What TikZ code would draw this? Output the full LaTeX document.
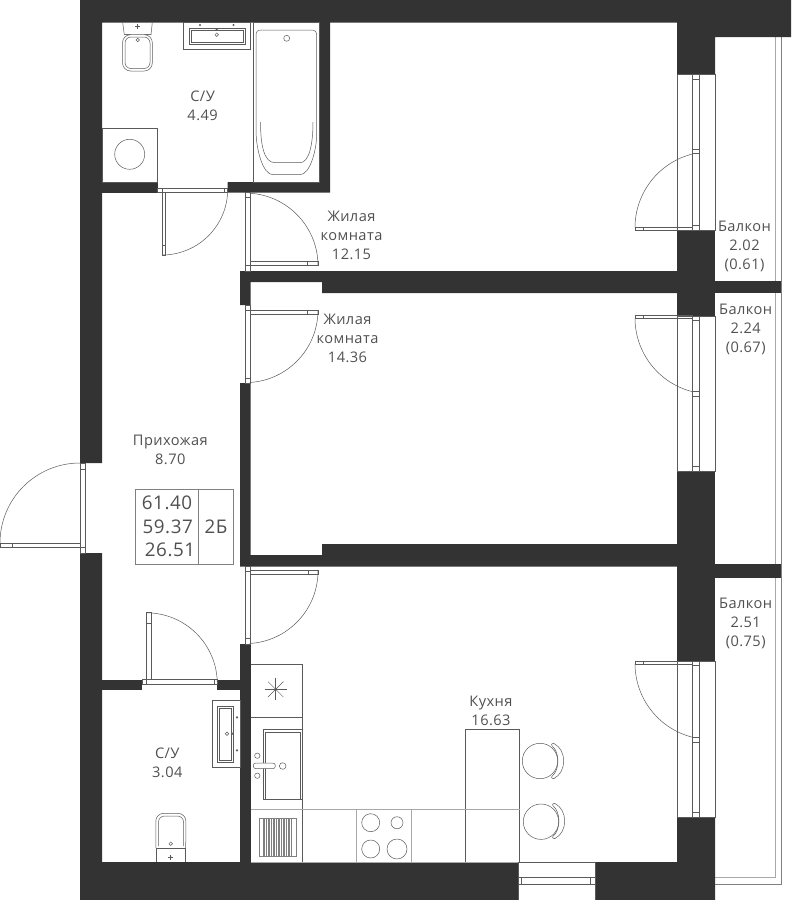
\documentclass[tikz,border=0pt]{standalone}
\usepackage{fontspec}
\setmainfont[LetterSpace=3]{Open Sans}
\definecolor{wallgray}{HTML}{333333}
\definecolor{linegray}{HTML}{5A5A5A}
\definecolor{palegray}{HTML}{A8A8A8}
\definecolor{textgray}{HTML}{505050}
\tikzset{
  wall/.style={fill=wallgray, draw=none},
  thin line/.style={draw=linegray, line width=0.5pt},
  pale line/.style={draw=palegray, line width=1pt},
  room label/.style={text=textgray, align=center, inner sep=0pt, font=\fontsize{14.6}{19}\selectfont},
  area label/.style={text=textgray, inner sep=0pt, font=\fontsize{18.8}{20}\selectfont}
}
\begin{document}
\begin{tikzpicture}[x=1pt, y=-1pt]
\useasboundingbox (0,0) rectangle (810,900);

%balcony railing
\draw[pale line] (775,37) -- (775,877) -- (715,877);
\draw[thin line, draw=gray] (781,37) -- (781,884) -- (715,884);

%outer walls
\fill[wall] (80,0) -- (791,0) -- (791,37) -- (715,37) -- (715,74) -- (677,74) -- (677,22.5) -- (102,22.5) -- (102,463) -- (80,463) -- cycle;
\fill[wall] (80,553) -- (102,553) -- (102,862) -- (518,862) -- (518,900) -- (80,900) -- cycle;
\fill[wall] (595,862) -- (677,862) -- (677,817) -- (715,817) -- (715,900) -- (595,900) -- cycle;

%piers on the balcony side
\fill[wall] (677,230) rectangle (715,316);
\fill[wall] (677,471) rectangle (715,661);
\fill[wall] (715,281) rectangle (781,293);
\fill[wall] (715,564) rectangle (781,578);

%inner walls
\fill[wall] (240,271) -- (677,271) -- (677,293) -- (322,293) -- (322,282) -- (250.7,282) -- (250.7,305) -- (240,305) -- cycle;
\fill[wall] (240,383) -- (250.7,383) -- (250.7,555) -- (322,555) -- (322,544) -- (677,544) -- (677,566.7) -- (240,566.7) -- cycle;
\fill[wall] (240,644) rectangle (250.7,862);
\fill[wall] (102,679.5) rectangle (142,690);
\fill[wall] (217,679.5) rectangle (240,690);
\fill[wall] (102,182) rectangle (157.7,192.7);
\fill[wall] (227.7,182) -- (319,182) -- (319,22) -- (330,22) -- (330,192.7) -- (227.7,192.7) -- cycle;

%balcony windows
\foreach \wtop/\wbot/\ta/\tb/\tc/\td in {74/230/79/149.7/153/225.7, 316/471/320/391/396/466.7, 661/817/665.7/737/742/812}{
  \draw[thin line] (677,\wtop) rectangle (715,\wbot);
  \draw[thin line] (692.3,\wtop) rectangle (699.7,\wbot);
  \foreach \t in {\ta,\tb,\tc,\td}
    \draw[thin line] (692.3,\t) -- (699.7,\t);
}
\draw[thin line] (635,227.7) rectangle (692.3,230);
\draw[thin line] (643,227.7) -- (643,230);
\draw[thin line] (635,227.7) arc[start angle=180, end angle=255.5, radius=76];
\draw[thin line] (635,315.5) rectangle (692.3,318.3);
\draw[thin line] (643,315.5) -- (643,318.3);
\draw[thin line] (635,318) arc[start angle=180, end angle=104.5, radius=76];
\draw[thin line] (635,661) rectangle (692.3,664);
\draw[thin line] (643,661) -- (643,664);
\draw[thin line] (635,663.5) arc[start angle=180, end angle=104.5, radius=76];

%entrance door
\draw[thin line] (80,463) rectangle (85.7,553);
\draw[thin line] (80,469) -- (85.7,469);
\draw[thin line] (80,547) -- (85.7,547);
\draw[thin line] (0,543) rectangle (80,547.7);
\draw[thin line] (12,543) -- (12,547.7);
\draw[thin line] (0,543) arc[start angle=180, end angle=270, radius=80];

%door of the upper bathroom
\draw[thin line] (157.7,188.7) rectangle (227.7,192.7);
\draw[thin line] (162,188.7) -- (162,192.7);
\draw[thin line] (224.3,188.7) -- (224.3,192.7);
\draw[thin line] (162,192.7) rectangle (165.7,255);
\draw[thin line] (162,245) -- (165.7,245);
\draw[thin line] (162,255) arc[start angle=90, end angle=0, radius=65.7];

%door of the lower bathroom
\draw[thin line] (142,679.5) rectangle (217,684);
\draw[thin line] (146.3,679.5) -- (146.3,684);
\draw[thin line] (214.3,679.5) -- (214.3,684);
\draw[thin line] (146.3,612.5) rectangle (151,679.5);
\draw[thin line] (146.3,623) -- (151,623);
\draw[thin line] (146.3,612.8) arc[start angle=270, end angle=360, radius=71];

%doors of the rooms and the kitchen
\draw[thin line] (245.7,192.7) rectangle (250.7,271);
\draw[thin line] (245.7,197.7) -- (250.7,197.7);
\draw[thin line] (245.7,265) -- (250.7,265);
\draw[thin line] (250.7,261) rectangle (318,265.7);
\draw[thin line] (307.7,261) -- (307.7,265.7);
\draw[thin line] (318,265.7) arc[start angle=360, end angle=273.4, radius=72.6];

\draw[thin line] (245.7,305) rectangle (250.7,383);
\draw[thin line] (245.7,310) -- (250.7,310);
\draw[thin line] (245.7,378) -- (250.7,378);
\draw[thin line] (250.7,310) rectangle (318,314);
\draw[thin line] (307,310) -- (307,314);
\draw[thin line] (318,310) arc[start angle=0, end angle=86.6, radius=72.6];

\draw[thin line] (245.7,566.7) rectangle (250.7,644);
\draw[thin line] (245.7,571) -- (250.7,571);
\draw[thin line] (245.7,638) -- (250.7,638);
\draw[thin line] (250.7,570.7) rectangle (318,574.7);
\draw[thin line] (308,570.7) -- (308,574.7);
\draw[thin line] (318,571) arc[start angle=0, end angle=86.6, radius=72.6];

%bottom window
\draw[thin line] (518,862) rectangle (595,900);
\draw[thin line] (518,877) rectangle (595,884);
\draw[thin line] (521.7,877) -- (521.7,884);
\draw[thin line] (590.7,877) -- (590.7,884);

%upper bathroom: toilet
\draw[thin line] (122.7,22.5) -- (124.3,34.7) -- (151,34.7) -- (152.3,22.5);
\draw[thin line, rounded corners=8] (124.3,34.7) -- (122.5,34.7) -- (122.5,71) -- (152.3,71) -- (152.3,34.7) -- (151,34.7);
\draw[thin line, rounded corners=6] (125,37) -- (125,68.5) -- (150,68.5) -- (150,37) -- cycle;
\draw[thin line] (137.7,40) circle[radius=1.8];
\fill[linegray] (137.7,26.5) circle[radius=1.2];
\draw[thin line] (135,26.5) -- (140.4,26.5) (137.7,24) -- (137.7,29);

%upper bathroom: sink
\draw[thin line] (183.3,22.5) rectangle (250.3,49.7);
\draw[thin line] (189,28.7) rectangle (245,44.3);
\draw[thin line] (191,30.7) rectangle (243,42.3);
\fill[linegray] (200,25) circle[radius=1.2];
\fill[linegray] (233.5,25) circle[radius=1.2];
\fill[linegray] (216.7,29.7) circle[radius=1.2];
\draw[thin line] (216.7,34.7) circle[radius=1.8];

%upper bathroom: bath
\draw[thin line] (253.3,22.5) rectangle (319,182);
\draw[thin line, rounded corners=4] (256,130) -- (256,30) -- (316.7,30) -- (316.7,130) .. controls (316.7,150) and (310,174.7) .. (296,174.7) -- (277,174.7) .. controls (263,174.7) and (256,150) .. (256,130);
\draw[thin line] (260.5,122) .. controls (260.5,145) and (264,162.7) .. (275,162.7) -- (300,162.7) .. controls (309,162.7) and (313,145) .. (313,122);
\draw[thin line] (286.7,38.3) circle[radius=3];

%upper bathroom: washing machine
\draw[thin line] (102,128.3) rectangle (157.7,182);
\draw[thin line] (129.7,154.3) circle[radius=15];

%lower bathroom: sink
\draw[thin line] (212.3,700.3) rectangle (240,767.3);
\draw[thin line] (217.3,706) rectangle (233.7,762);
\draw[thin line] (219.3,708) rectangle (231.7,760);
\draw[thin line] (227,733.7) circle[radius=1.8];
\fill[linegray] (232.7,733.7) circle[radius=1.2];
\fill[linegray] (237,717.3) circle[radius=1.2];
\fill[linegray] (237,750.3) circle[radius=1.2];

%lower bathroom: toilet
\draw[thin line] (156.3,862) -- (156.3,848) -- (185.7,848) -- (185.7,862);
\draw[thin line, rounded corners=8] (156,848) -- (155.7,813.3) -- (186,813.3) -- (185.7,848);
\draw[thin line, rounded corners=6] (158.5,846) -- (158.5,816) -- (183.5,816) -- (183.5,846);
\draw[thin line] (170.7,843.7) circle[radius=1.8];
\fill[linegray] (170.7,857.3) circle[radius=1.2];
\draw[thin line] (168,857.3) -- (173.4,857.3) (170.7,855) -- (170.7,860);

%kitchen: counter
\draw[thin line] (250.7,664) -- (302.3,664) -- (302.3,862);
\draw[thin line] (250.7,717.3) -- (302.3,717.3);
\draw[pale line] (250.7,809.5) -- (465.3,809.5);
\draw[pale line] (356.3,809.5) -- (356.3,862);
\draw[pale line] (411,809.5) -- (411,862);
\draw[pale line] (250.7,862) -- (518,862);

%kitchen: star
\draw[thin line] (264.7,689.3) -- (286.7,689.3) (275.7,678.3) -- (275.7,700.3);
\draw[thin line] (268,681.6) -- (283.4,697) (268,697) -- (283.4,681.6);
\fill[linegray] (275.7,689.3) circle[radius=1.5];

%kitchen: sink
\draw[thin line] (263,799.7) rectangle (302.3,729.3);
\draw[thin line] (265.7,799.7) -- (265.7,732.3) -- (300,732.3) -- (300,799.7);
\draw[thin line, fill=white, rounded corners=2.5] (253.3,763) rectangle (275.3,768.7);
\draw[thin line] (257.3,755.7) circle[radius=2.7];
\draw[thin line] (257.3,775.7) circle[radius=2.7];
\draw[thin line] (282.7,766) circle[radius=3.3];

%kitchen: dish rack
\draw[thin line, draw=gray] (259.3,818) rectangle (296.7,856);
\foreach \s in {264,266.5,...,292}
  \draw[line width=1.1pt, draw=gray] (\s,818) -- (\s,856);

%kitchen: cooker
\draw[thin line] (370.7,822.7) circle[radius=9];
\draw[thin line] (397,822.7) circle[radius=6];
\draw[thin line] (370.7,849) circle[radius=9];
\draw[thin line] (397,849) circle[radius=10];

%kitchen: table and chairs
\draw[thin line] (465.3,862) -- (465.3,729.3) -- (519.7,729.3) -- (519.7,862);
\draw[pale line] (465.3,809.5) -- (519.7,809.5);
\draw[thin line] (540,761) circle[radius=17.7];
\draw[thin line, rounded corners=1] (553,743) .. controls (567,750) and (567,772) .. (553,779) -- (551,777) .. controls (560,770) and (560,752) .. (551,745) -- cycle;
\draw[thin line] (541,821.7) circle[radius=17.7];
\draw[thin line, rounded corners=1] (554,803) .. controls (568,810) and (568,832) .. (554,839) -- (552,837) .. controls (561,830) and (561,812) .. (552,805) -- cycle;

%room labels
\node[room label] (bathtop) at (202.6,106) {С/У\\4.49};
\node[room label] (roomone) at (351.5,235) {Жилая\\комната\\12.15};
\node[room label] (roomtwo) at (347.5,338) {Жилая\\комната\\14.36};
\node[room label] (balconyone) at (744.5,246.5) {Балкон\\2.02\\(0.61)};
\node[room label] (balconytwo) at (745.7,329.5) {Балкон\\2.24\\(0.67)};
\node[room label] (balconythree) at (745.7,623) {Балкон\\2.51\\(0.75)};
\node[room label] (kitchen) at (491,711) {Кухня\\16.63};
\node[room label] (bathlow) at (167.3,762.5) {С/У\\3.04};
\node[room label] (hall) at (170.3,449.5) {Прихожая\\8.70};

%area box
\draw[pale line, draw=gray] (135.7,489) rectangle (233,564);
\draw[pale line, draw=gray] (198.7,489) -- (198.7,564);
\node[area label] (total) at (167,503.3) {61.40};
\node[area label] (living) at (167.7,526.7) {59.37};
\node[area label] (rooms) at (170,550) {26.51};
\node[area label] (type) at (216,526.7) {2Б};

\end{tikzpicture}
\end{document}
